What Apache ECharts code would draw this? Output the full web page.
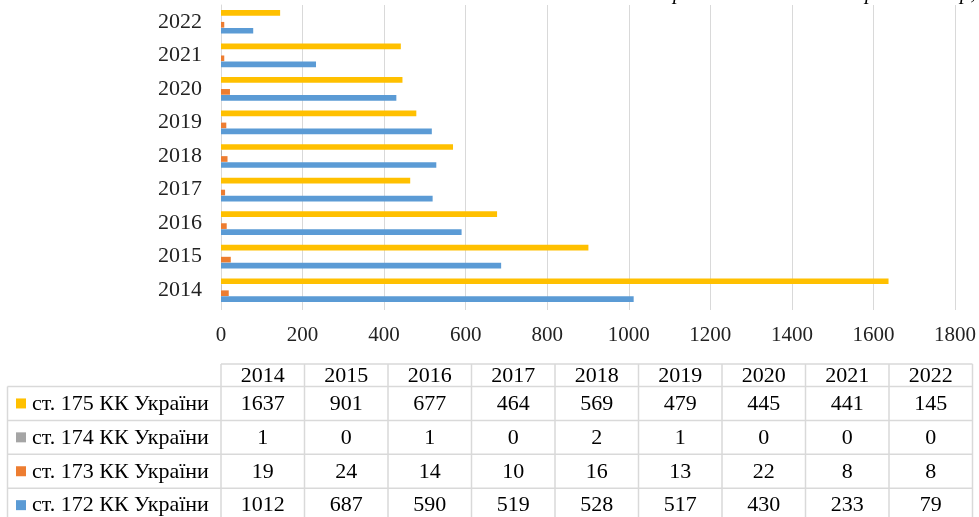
<!DOCTYPE html>
<html>
<head>
<meta charset="utf-8">
<script src="https://cdn.jsdelivr.net/npm/echarts@6/dist/echarts.min.js"></script>
<style>
  html, body { margin: 0; padding: 0; background: #fff; }
  #chart { width: 979px; height: 517px; }
</style>
</head>
<body>
<div id="chart"></div>
<script>
// Years on the category axis and in the table header
const years = ['2014', '2015', '2016', '2017', '2018', '2019', '2020', '2021', '2022'];

// Registered offences per article of the Criminal Code of Ukraine
const art172 = [1012, 687, 590, 519, 528, 517, 430, 233, 79];
const art173 = [19, 24, 14, 10, 16, 13, 22, 8, 8];
const art174 = [1, 0, 1, 0, 2, 1, 0, 0, 0];
const art175 = [1637, 901, 677, 464, 569, 479, 445, 441, 145];

const seriesNames = ['ст. 172 КК України', 'ст. 173 КК України', 'ст. 174 КК України', 'ст. 175 КК України'];
const seriesData = [art172, art173, art174, art175];
const seriesColors = ['#5B9BD5', '#ED7D31', '#A5A5A5', '#FFC000'];

// Value axis range
const xMin = 0, xMax = 1800, xStep = 200;

const FONT = '"Liberation Serif", "Times New Roman", serif';
const GRID_COLOR = '#d9d9d9';

const chart = echarts.init(document.getElementById('chart'), null, { renderer: 'canvas' });

// ---- data table under the chart, built from the same arrays ----
function buildTable() {
  const els = [];
  const left = 7.5;          // legend column left edge
  const colStart = 221;      // first year column
  const colW = 83.5;
  const headTop = 364, headBottom = 386.5;
  const rowH = 33.9;
  const nRows = seriesData.length;
  const tableRight = colStart + colW * years.length;
  const bottom = 530;
  const line = (x1, y1, x2, y2) => ({
    type: 'line', silent: true,
    shape: { x1, y1, x2, y2 },
    style: { stroke: GRID_COLOR, lineWidth: 1.5 }
  });
  const text = (t, x, y, align) => ({
    type: 'text', silent: true,
    style: {
      text: t, x, y, font: '22px ' + FONT, fill: '#000',
      align: align, textAlign: align,
      verticalAlign: 'middle', textVerticalAlign: 'middle'
    }
  });

  // header frame
  els.push(line(colStart, headTop, tableRight, headTop));
  for (let r = 0; r <= nRows; r++) {
    const y = headBottom + r * rowH;
    if (y < bottom) els.push(line(left, y, tableRight, y));
  }
  els.push(line(left, headBottom, left, bottom));
  for (let c = 0; c <= years.length; c++) {
    const x = colStart + c * colW;
    els.push(line(x, headTop, x, bottom));
  }
  // header years
  years.forEach((yr, c) => {
    els.push(text(yr, colStart + (c + 0.5) * colW, (headTop + headBottom) / 2 + 0.5, 'center'));
  });
  // rows: last series first
  for (let r = 0; r < nRows; r++) {
    const s = nRows - 1 - r;
    const cy = headBottom + (r + 0.5) * rowH;
    els.push({
      type: 'rect', silent: true,
      shape: { x: 16, y: cy - 5, width: 10, height: 10 },
      style: { fill: seriesColors[s] }
    });
    els.push(text(seriesNames[s], 32, cy + 0.5, 'left'));
    seriesData[s].forEach((v, c) => {
      els.push(text(String(v), colStart + (c + 0.5) * colW, cy + 0.5, 'center'));
    });
  }
  return els;
}

// descenders of the italic caption line running above the figure
const captionGlyphs = [
  { t: 'р', x: 673 },
  { t: 'р', x: 865 },
  { t: 'р,', x: 960 }
];
function buildCaption() {
  return captionGlyphs.map(g => ({
    type: 'text', silent: true,
    style: {
      text: g.t, x: g.x, y: 4, font: 'italic 21px ' + FONT, fill: '#000',
      align: 'left', textAlign: 'left',
      verticalAlign: 'bottom', textVerticalAlign: 'bottom'
    }
  }));
}

// bars within a year are stacked top-down: ст. 175 on top, ст. 172 at the bottom
const drawOrder = [3, 2, 1, 0];

const option = {
  animation: false,
  backgroundColor: '#fff',
  grid: { left: 221, right: 24, top: 5, bottom: 210, containLabel: false },
  xAxis: {
    type: 'value',
    min: xMin, max: xMax, interval: xStep,
    axisLine: { show: false },
    axisTick: { show: true, length: 3, lineStyle: { color: GRID_COLOR } },
    splitLine: { show: true, lineStyle: { color: GRID_COLOR, width: 1 } },
    axisLabel: {
      color: '#222', fontFamily: FONT, fontSize: 21, margin: 18,
      formatter: v => String(v)
    }
  },
  yAxis: {
    type: 'category',
    data: years,
    axisLine: { show: true, lineStyle: { color: GRID_COLOR, width: 1 } },
    axisTick: { show: false },
    axisLabel: { color: '#222', fontFamily: FONT, fontSize: 22, margin: 19 }
  },
  series: drawOrder.map(i => ({
    name: seriesNames[i],
    type: 'bar',
    data: seriesData[i],
    barWidth: 5.7,
    barGap: '5%',
    itemStyle: { color: seriesColors[i] }
  })),
  graphic: { elements: buildTable().concat(buildCaption()) }
};

chart.setOption(option);
</script>
</body>
</html>
